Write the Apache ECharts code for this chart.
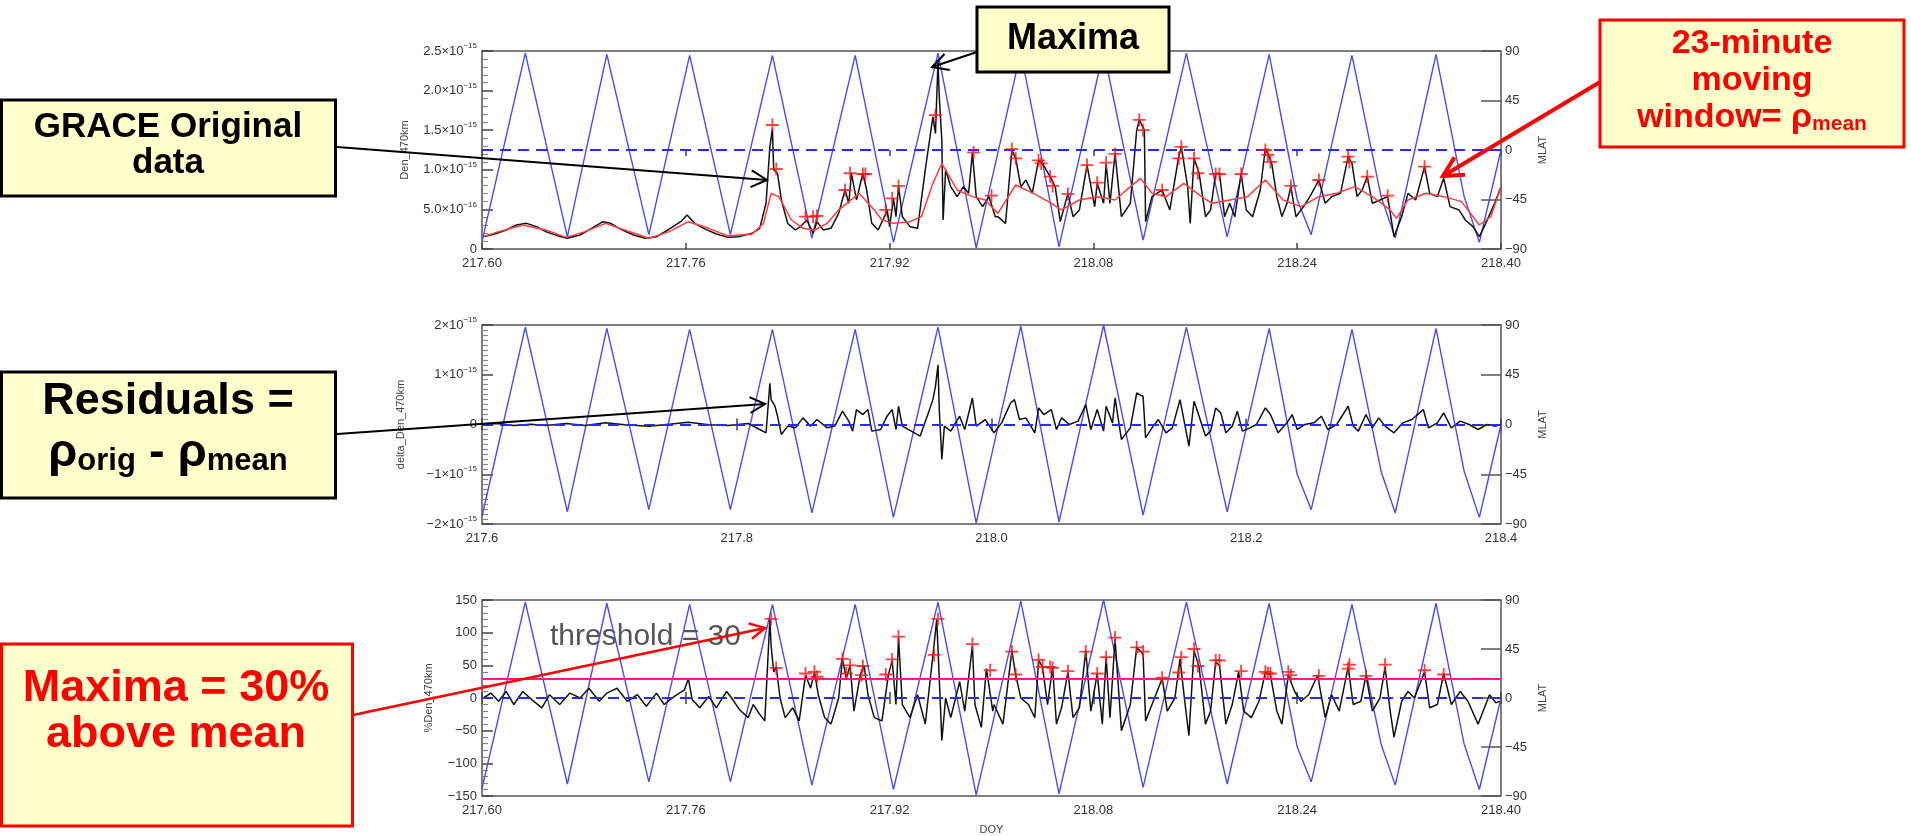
<!DOCTYPE html>
<html><head><meta charset="utf-8">
<script src="https://cdn.jsdelivr.net/npm/echarts@6/dist/echarts.min.js"></script>
<style>html,body{margin:0;padding:0;background:#fff;}#c{width:1911px;height:836px;}</style>
</head><body><div id="c"></div><script>
// ---------- DATA (DOY, value) ----------
// Magnetic latitude (deg), turning points of the orbit track
const mlat = [[217.600,-83],[217.634,88],[217.667,-79],[217.698,87],[217.731,-77],[217.763,86],[217.795,-77],
 [217.828,86],[217.859,-80],[217.893,86],[217.923,-84],[217.958,88],[217.988,-89],[218.023,89],[218.053,-88],
 [218.088,90],[218.119,-82],[218.153,88],[218.185,-79],[218.218,87],[218.240,-45],[218.251,-77],[218.283,86],[218.306,-43],
 [218.317,-80],[218.349,87],[218.371,-42],[218.383,-84],[218.400,0]];
// Density at 470 km, units of 1e-16
const den = [[217.601,1.56],[217.610,1.89],[217.619,2.40],[217.627,3.03],[217.635,3.24],[217.643,2.82],[217.650,2.19],[217.660,1.64],[217.667,1.35],[217.677,1.77],[217.686,2.61],[217.695,3.45],[217.701,3.24],[217.709,2.48],[217.719,1.77],[217.728,1.35],[217.737,1.56],[217.746,2.40],[217.756,3.45],[217.761,4.29],[217.767,3.24],[217.774,2.61],[217.784,1.89],[217.793,1.47],[217.802,1.56],[217.812,1.98],[217.818,2.61],[217.823,5.77],[217.826,12.9],[217.828,15.2],[217.829,10.0],[217.832,9.56],[217.835,6.19],[217.840,3.24],[217.846,2.40],[217.850,2.82],[217.855,3.66],[217.860,1.98],[217.863,3.45],[217.868,2.40],[217.874,2.61],[217.880,4.50],[217.885,7.45],[217.888,5.77],[217.890,9.56],[217.894,6.19],[217.899,9.56],[217.902,7.45],[217.906,3.24],[217.911,2.40],[217.916,4.08],[217.918,4.93],[217.920,2.82],[217.923,6.40],[217.925,4.08],[217.927,7.96],[217.930,4.08],[217.936,2.82],[217.942,2.61],[217.948,10.0],[217.954,16.7],[217.956,14.6],[217.958,23.7],[217.959,19.2],[217.961,13.8],[217.962,3.66],[217.964,10.0],[217.968,7.87],[217.973,6.61],[217.978,7.87],[217.982,7.03],[217.985,12.1],[217.988,6.61],[217.993,5.35],[217.998,6.61],[218.003,4.08],
 [218.005,4.08],[218.011,3.24],[218.016,12.5],[218.019,11.45],[218.023,7.87],[218.027,8.71],[218.032,7.03],[218.037,11.24],[218.040,10.8],[218.046,9.14],[218.050,7.87],[218.054,3.45],[218.060,7.03],[218.064,4.08],[218.069,4.93],[218.075,10.6],[218.081,5.35],[218.083,8.29],[218.088,5.77],[218.090,10.8],[218.093,5.77],[218.097,12.1],[218.102,4.08],[218.109,5.77],[218.114,15.0],[218.116,16.3],[218.120,15.0],[218.121,3.45],[218.126,6.61],[218.134,7.45],[218.140,4.93],[218.147,11.66],[218.149,12.9],[218.154,7.87],[218.156,3.24],[218.159,11.45],[218.163,9.56],[218.168,4.08],[218.172,4.93],[218.176,9.56],[218.179,9.56],[218.183,4.08],[218.187,5.77],[218.191,4.08],[218.196,9.56],[218.200,4.93],[218.205,4.08],[218.211,7.45],[218.215,12.7],[218.218,11.66],[218.220,10.8],[218.224,6.61],[218.228,4.08],[218.232,5.77],[218.235,7.87],[218.239,4.08],[218.245,5.35],[218.250,6.61],[218.257,8.71],[218.262,5.77],[218.267,6.61],[218.274,7.03],[218.280,11.66],[218.283,10.8],[218.287,6.61],[218.291,7.45],[218.295,9.14],[218.299,5.77],[218.305,6.19],[218.311,6.61],[218.316,1.56],[218.322,4.08],[218.327,7.03],[218.333,6.19],[218.340,10.4],[218.344,7.03],[218.350,6.61],[218.355,8.92],[218.360,5.35],[218.367,4.93],[218.372,3.66],[218.378,2.82],[218.383,1.56],[218.388,3.24],[218.395,5.77],[218.400,7.87]];
// 23-minute moving mean, units of 1e-16
const denMean = [[217.601,1.56],[217.613,2.19],[217.632,3.03],[217.650,2.40],[217.666,1.47],[217.681,2.19],[217.697,3.24],[217.712,2.40],[217.731,1.35],[217.747,2.19],[217.762,3.45],[217.778,2.61],[217.793,1.64],[217.812,1.89],[217.821,3.24],[217.827,7.03],[217.833,6.61],[217.843,3.66],[217.852,2.61],[217.861,2.40],[217.871,3.24],[217.880,4.93],[217.896,7.03],[217.908,4.93],[217.914,3.66],[217.923,3.24],[217.936,3.45],[217.945,4.08],[217.954,8.29],[217.961,10.8],[217.967,9.14],[217.973,7.45],[217.985,6.61],[217.995,6.19],
 [218.005,4.50],[218.019,8.08],[218.033,7.03],[218.047,5.77],[218.055,4.93],[218.069,6.19],[218.083,6.61],[218.097,6.19],[218.109,7.87],[218.117,8.92],[218.126,7.03],[218.137,6.61],[218.151,8.29],[218.165,6.61],[218.173,5.77],[218.187,6.19],[218.201,6.61],[218.215,8.71],[218.229,6.19],[218.243,5.35],[218.257,6.61],[218.271,7.03],[218.285,7.87],[218.299,6.61],[218.313,4.93],[218.318,3.87],[218.327,6.19],[218.341,7.03],[218.355,6.61],[218.369,5.98],[218.383,3.03],[218.392,4.08],[218.400,7.87]];
// Detected maxima on the density curve, units of 1e-16
const denMax = [[217.828,15.66],[217.831,10.1],[217.854,4.08],[217.860,4.08],[217.863,4.17],[217.885,7.45],[217.889,9.56],[217.899,9.47],[217.901,9.47],[217.917,4.93],[217.922,6.40],[217.927,7.96],[217.956,16.9],[217.986,12.2],[218.000,6.73],
 [218.016,12.6],[218.019,11.45],[218.037,11.2],[218.039,10.8],[218.046,9.14],[218.048,7.96],[218.060,6.95],[218.075,10.6],[218.083,8.37],[218.090,10.9],[218.097,12.0],[218.116,16.3],[218.119,15.0],[218.134,7.45],[218.147,11.45],[218.149,12.9],[218.159,11.45],[218.162,9.56],[218.176,9.47],[218.179,9.47],[218.196,9.47],[218.215,12.5],[218.217,11.9],[218.219,11.0],[218.235,7.96],[218.257,8.71],[218.280,11.66],[218.281,11.0],[218.295,9.14],[218.311,6.73],[218.340,10.4]];
// Residuals rho_orig - rho_mean, units of 1e-16
const resid = [[217.601,-0.07],[217.613,0.2],[217.625,-0.2],[217.638,0.07],[217.650,-0.2],[217.666,0.2],[217.681,-0.2],[217.697,0.33],[217.712,-0.07],[217.731,-0.33],[217.747,0.07],[217.762,0.47],[217.778,-0.07],[217.793,-0.2],[217.809,0.2],[217.818,-1.0],[217.823,-1.7],[217.826,8.3],[217.827,5.0],[217.830,3.7],[217.832,1.7],[217.835,-2.0],[217.840,-0.33],[217.846,-0.67],[217.852,1.33],[217.858,-0.33],[217.863,1.0],[217.871,-0.67],[217.877,-0.33],[217.883,2.67],[217.888,0.67],[217.891,-1.33],[217.894,3.0],[217.899,2.0],[217.903,3.0],[217.906,-1.33],[217.913,-1.0],[217.918,1.67],[217.922,3.0],[217.925,-1.0],[217.927,3.67],[217.930,-0.33],[217.937,-1.33],[217.944,-2.33],[217.950,2.0],[217.954,5.0],[217.956,7.67],[217.958,12.0],[217.959,3.0],[217.961,-7.0],[217.963,-0.33],[217.968,-1.33],[217.975,1.67],[217.979,-1.0],[217.985,5.33],[217.988,-0.33],[217.995,1.0],[218.002,-1.67],[218.008,0.33],[218.015,4.33],[218.018,5.0],[218.022,1.0],[218.027,1.33],[218.034,-1.67],[218.037,3.33],[218.041,2.0],[218.047,3.0],[218.051,-1.0],[218.055,1.33],[218.061,0.0],[218.068,0.67],[218.074,4.0],[218.078,-1.0],[218.083,3.0],[218.088,-1.33],[218.090,3.67],[218.095,0.33],[218.097,5.33],[218.102,-3.0],[218.109,-0.67],[218.114,6.33],[218.119,5.67],[218.121,-2.67],[218.126,-0.67],[218.131,1.0],[218.137,-1.67],[218.142,-0.67],[218.148,5.0],[218.152,-0.33],[218.155,-4.33],[218.159,4.67],[218.163,1.67],[218.168,-2.33],[218.172,-1.33],[218.176,3.33],[218.180,2.33],[218.184,-1.67],[218.189,-0.33],[218.193,2.67],[218.197,-1.33],[218.203,-0.67],[218.208,0.0],[218.215,3.33],[218.219,2.0],[218.225,-1.67],[218.232,0.33],[218.236,2.0],[218.240,-1.0],[218.246,0.0],[218.253,0.33],[218.259,1.67],[218.264,-1.0],[218.271,0.0],[218.280,3.67],[218.284,-0.33],[218.288,-1.33],[218.294,2.0],[218.299,-0.67],[218.304,1.33],[218.309,-0.33],[218.316,-1.67],[218.323,0.33],[218.330,1.0],[218.339,3.0],[218.343,-0.67],[218.350,0.33],[218.355,2.33],[218.361,-0.67],[218.368,0.67],[218.375,0.0],[218.382,-1.0],[218.389,0.0],[218.396,-0.33],[218.399,-0.07]];
// Percent density deviation
const pct = [[217.601,0],[217.607,7.5],[217.613,-5],[217.619,10],[217.625,-10],[217.632,10],[217.639,-2.5],[217.647,-15],[217.653,5],[217.661,-10],[217.669,7.5],[217.677,0],[217.684,15],[217.692,-5],[217.698,7.5],[217.706,15],[217.714,-5],[217.722,5],[217.729,-12.5],[217.737,7.5],[217.743,-10],[217.751,2.5],[217.759,12.5],[217.762,30],[217.765,-2.5],[217.771,-15],[217.778,2.5],[217.784,-15],[217.792,10],[217.796,0],[217.802,-17.5],[217.809,-30],[217.813,-10],[217.818,-25],[217.822,-35],[217.826,120],[217.827,80],[217.829,40],[217.831,47.5],[217.834,0],[217.838,-30],[217.844,-15],[217.849,-35],[217.854,35],[217.858,15],[217.861,40],[217.864,5],[217.869,-30],[217.874,-40],[217.880,0],[217.883,60],[217.886,30],[217.889,50],[217.892,-20],[217.897,35],[217.900,50],[217.903,5],[217.908,-30],[217.914,-35],[217.919,35],[217.922,57.5],[217.925,-10],[217.927,92.5],[217.930,-10],[217.936,-30],[217.942,5],[217.948,-40],[217.954,65],[217.957,120],[217.959,30],[217.961,-65],[217.964,0],[217.968,-30],[217.975,25],[217.979,-20],[217.985,80],[217.987,-10],[217.992,-45],[217.996,45],[218.001,-20],
 [218.002,-10],[218.009,-40],[218.016,72.5],[218.019,35],[218.023,0],[218.029,-10],[218.034,-30],[218.037,57.5],[218.040,47.5],[218.044,-10],[218.048,47.5],[218.051,-40],[218.055,-15],[218.060,40],[218.064,-30],[218.069,-15],[218.074,72.5],[218.078,-20],[218.083,37.5],[218.087,-40],[218.090,62.5],[218.093,-30],[218.097,90],[218.102,-50],[218.109,-10],[218.114,77.5],[218.119,67.5],[218.121,-35],[218.127,-5],[218.134,30],[218.138,-20],[218.144,0],[218.148,60],[218.152,-10],[218.155,-57.5],[218.159,72.5],[218.163,47.5],[218.168,-40],[218.172,-20],[218.176,55],[218.179,50],[218.184,-40],[218.189,-10],[218.194,40],[218.198,-20],[218.204,-30],[218.210,-5],[218.215,40],[218.219,35],[218.224,-20],[218.228,-40],[218.233,35],[218.238,10],[218.243,-5],[218.249,5],[218.256,35],[218.262,-30],[218.267,5],[218.273,-20],[218.280,47.5],[218.284,-10],[218.290,-5],[218.294,35],[218.299,-20],[218.305,0],[218.309,47.5],[218.313,-20],[218.316,-60],[218.322,-5],[218.327,10],[218.332,0],[218.340,40],[218.344,-15],[218.350,-10],[218.355,37.5],[218.361,-10],[218.368,10],[218.374,-5],[218.382,-40],[218.386,-20],[218.391,5],[218.396,-7.5],[218.399,-5]];
// Maxima above threshold (%)
const pctMax = [[217.827,121],[217.831,46],[217.854,37.5],[217.861,40],[217.863,32.5],[217.883,60],[217.886,37.5],[217.889,50],[217.898,35],[217.899,49],[217.917,36],[217.922,59],[217.927,94],[217.955,66],[217.958,121],[217.985,82.5],[217.999,42.5],
 [218.016,71],[218.019,36],[218.037,58.5],[218.040,47.5],[218.046,47.5],[218.048,46],[218.060,41],[218.074,71],[218.083,37.5],[218.090,62.5],[218.097,92.5],[218.114,77.5],[218.119,71],[218.134,31],[218.147,39],[218.149,62.5],[218.159,75],[218.162,49],[218.176,57.5],[218.179,57.5],[218.196,41],[218.215,40],[218.217,37.5],[218.219,37.5],[218.233,40],[218.235,35],[218.257,34],[218.280,45],[218.281,51],[218.294,34],[218.309,51],[218.340,42.5],[218.355,36]];
const threshold = 30;
// Tick labels
const denTickVals = [0,5,10,15,20,25];
const denTickMant = ['0','5.0','1.0','1.5','2.0','2.5'];
const denTickExp  = ['','−16','−15','−15','−15','−15'];
const resTickVals = [-20,-10,0,10,20];
const resTickMant = ['−2','−1','0','1','2'];
const resTickExp  = ['−15','−15','','−15','−15'];
const mlatTickVals = [-90,-45,0,45,90];
const mlatTickText = ['−90','−45','0','45','90'];
const pctTickVals = [-150,-100,-50,0,50,100,150];
const pctTickText = ['−150','−100','−50','0','50','100','150'];

// ---------- CHART ----------
const FONT = 'Liberation Sans';
const chart = echarts.init(document.getElementById('c'), null, {renderer:'canvas'});
const grids = [
  {left:482, top:51, width:1019, height:198},
  {left:482, top:325, width:1019, height:199},
  {left:482, top:600, width:1019, height:200}
].map(g => Object.assign(g, {show:true, borderColor:'#555', borderWidth:1.5, backgroundColor:'#fff'}));

const labStyle = {color:'#333', fontSize:13, fontFamily:FONT};
const rich = {m:{fontSize:13, color:'#333', fontFamily:FONT, lineHeight:18}, s:{fontSize:8, color:'#333', fontFamily:FONT, verticalAlign:'top', lineHeight:18}};
function sciFmt(vals, mant, exp){
  return v => { const i = vals.findIndex(t => Math.abs(t - v) < 1e-9); if (i < 0) return ''; return exp[i] ? '{m|' + mant[i] + '×10}{s|' + exp[i] + '}' : '{m|' + mant[i] + '}'; };
}
function txtFmt(vals, txt){ return v => { const i = vals.findIndex(t => Math.abs(t - v) < 1e-9); return i < 0 ? '' : txt[i]; }; }

const xAxes = [];
[[0.16,2],[0.2,1],[0.16,2]].forEach(([iv,dec], g) => {
  xAxes.push({type:'value', gridIndex:g, min:217.6, max:218.4, interval:iv, position:'bottom',
    name: g===2 ? 'DOY' : '', nameLocation:'middle', nameGap:28, nameTextStyle:{color:'#444', fontSize:11, fontFamily:FONT},
    axisLine:{show:false}, splitLine:{show:false},
    axisTick:{show:true, inside:true, length:6, lineStyle:{color:'#444', width:1.5}},
    axisLabel:Object.assign({margin:8, formatter: v => v.toFixed(dec)}, labStyle)});
  xAxes.push({type:'value', gridIndex:g, min:217.6, max:218.4, interval:iv, position:'top',
    axisLine:{show:false}, splitLine:{show:false}, axisLabel:{show:false},
    axisTick:{show:true, inside:true, length:6, lineStyle:{color:'#444', width:1.5}}});
});

function leftAxis(g, min, max, iv, minorN, fmt, name, gap){
  return {type:'value', gridIndex:g, min, max, interval:iv, position:'left',
    name, nameLocation:'middle', nameGap:gap, nameTextStyle:{color:'#444', fontSize:11, fontFamily:FONT},
    axisLine:{show:false}, splitLine:{show:false},
    axisTick:{show:true, inside:true, length:11, lineStyle:{color:'#444', width:1.5}},
    minorTick:{show:true, splitNumber:minorN, length:6, lineStyle:{color:'#888', width:1.2}},
    axisLabel:Object.assign({margin:5, formatter:fmt, rich}, labStyle)};
}
function rightAxis(g){
  return {type:'value', gridIndex:g, min:-90, max:90, interval:45, position:'right',
    name:'MLAT', nameLocation:'middle', nameGap:34, nameTextStyle:{color:'#444', fontSize:11, fontFamily:FONT},
    axisLine:{show:false}, splitLine:{show:false},
    axisTick:{show:true, inside:true, length:20, lineStyle:{color:'#555', width:1.5}},
    axisLabel:Object.assign({margin:4, formatter:txtFmt(mlatTickVals, mlatTickText)}, labStyle)};
}
const yAxes = [
  leftAxis(0, 0, 25, 5, 5, sciFmt(denTickVals, denTickMant, denTickExp), 'Den_470km', 72), rightAxis(0),
  leftAxis(1, -20, 20, 10, 10, sciFmt(resTickVals, resTickMant, resTickExp), 'delta_Den_470km', 76), rightAxis(1),
  leftAxis(2, -150, 150, 50, 5, txtFmt(pctTickVals, pctTickText), '%Den_470km', 48), rightAxis(2)
];

const BLUE = '#4b4bf2';
const zeroLine = {silent:true, symbol:['none','none'], label:{show:false}, data:[{yAxis:0}],
  lineStyle:{type:[11,7], color:'#2a2aff', width:2}};
const plusSym = 'path://M4.3,0H5.7V4.3H10V5.7H5.7V10H4.3V5.7H0V4.3H4.3Z';
function blue(g){ return {type:'line', xAxisIndex:2*g, yAxisIndex:2*g+1, data:mlat, showSymbol:false, symbol:'none',
  lineStyle:{color:BLUE, width:1.4}, z:2, markLine:zeroLine, animation:false}; }
function blk(g, data){ return {type:'line', xAxisIndex:2*g, yAxisIndex:2*g, data, showSymbol:false, symbol:'none',
  lineStyle:{color:'#111', width:1.5}, z:3, animation:false}; }
function plus(g, data){ return {type:'scatter', xAxisIndex:2*g, yAxisIndex:2*g, data, symbol:plusSym, symbolSize:13,
  itemStyle:{color:'#ff1010'}, z:6, animation:false}; }

const series = [
  blue(0), blk(0, den),
  {type:'line', xAxisIndex:0, yAxisIndex:0, data:denMean, showSymbol:false, symbol:'none', lineStyle:{color:'#ff3b3b', width:1.5}, z:4, animation:false},
  plus(0, denMax),
  blue(1), blk(1, resid),
  blue(2),
  Object.assign(blk(2, pct), {markLine:{silent:true, symbol:['none','none'], label:{show:false}, data:[{yAxis:threshold}], lineStyle:{type:'solid', color:'#ff1a8c', width:2}}}),
  plus(2, pctMax)
];

// ---------- annotations ----------
function arrow(x1,y1,x2,y2,color,w,head){
  const dx=x2-x1, dy=y2-y1, L=Math.hypot(dx,dy), ux=dx/L, uy=dy/L, a=Math.PI/6.5, c=Math.cos(a), s=Math.sin(a);
  const p1=[x2-head*(ux*c-uy*s), y2-head*(uy*c+ux*s)], p2=[x2-head*(ux*c+uy*s), y2-head*(uy*c-ux*s)];
  return [{type:'line', z:100, shape:{x1,y1,x2,y2}, style:{stroke:color, lineWidth:w}},
          {type:'polyline', z:100, shape:{points:[p1,[x2,y2],p2]}, style:{stroke:color, lineWidth:w, fill:null}}];
}
function box(x,y,w,h,stroke){ return {type:'rect', z:100, shape:{x,y,width:w,height:h}, style:{fill:'#ffffcc', stroke, lineWidth:3}}; }
function txt(x,y,text,size,color,extra){ return {type:'text', z:101, x, y, style:Object.assign({text, fill:color, font:'bold '+size+'px "Liberation Sans", Arial, sans-serif', align:'center', verticalAlign:'middle'}, extra||{})}; }
const subRich = (size,color,r) => ({b:{fontSize:size, fontWeight:'bold', fill:color, fontFamily:FONT}, sub:{fontSize:Math.round(size*r), fontWeight:'bold', fill:color, fontFamily:FONT, verticalAlign:'bottom'}});

const graphic = [
  ...arrow(337,147,767,180,'#000',2,18),
  box(1.5,100,334,96,'#000'),
  txt(168,127,'GRACE Original',35,'#000'),
  txt(168,163,'data',35,'#000'),
  ...arrow(977,52,932,67,'#000',2,18),
  box(977,7,192,65,'#000'),
  txt(1073,39,'Maxima',36,'#000'),
  ...arrow(1600,82,1443,176,'#ff0000',4,22),
  box(1600,20,304,127,'#ff0000'),
  txt(1752,44,'23-minute',34,'#ff0000'),
  txt(1752,81,'moving',34,'#ff0000'),
  {type:'text', z:101, x:1752, y:118, style:{text:'{b|window= ρ}{sub|mean}', rich:subRich(34,'#ff0000',0.62), align:'center', verticalAlign:'middle'}},
  ...arrow(337,434,765,404,'#000',2,17),
  box(1.5,372,334,126,'#000'),
  txt(168,402,'Residuals =',45,'#000'),
  {type:'text', z:101, x:168, y:453, style:{text:'{b|ρ}{sub|orig}{b| - ρ}{sub|mean}', rich:subRich(47,'#000',0.66), align:'center', verticalAlign:'middle'}},
  ...arrow(353,715,765,628,'#ff0000',2.5,17),
  box(1.5,644,351,182,'#ff0000'),
  txt(176,689,'Maxima = 30%',45,'#ff0000'),
  txt(176,735,'above mean',45,'#ff0000'),
  {type:'text', z:1, x:550, y:637, style:{text:'threshold = 30', fill:'#555', font:'30px "Liberation Sans", Arial, sans-serif', align:'left', verticalAlign:'middle'}}
];

chart.setOption({animation:false, backgroundColor:'#fff', grid:grids, xAxis:xAxes, yAxis:yAxes, series, graphic});
</script></body></html>
